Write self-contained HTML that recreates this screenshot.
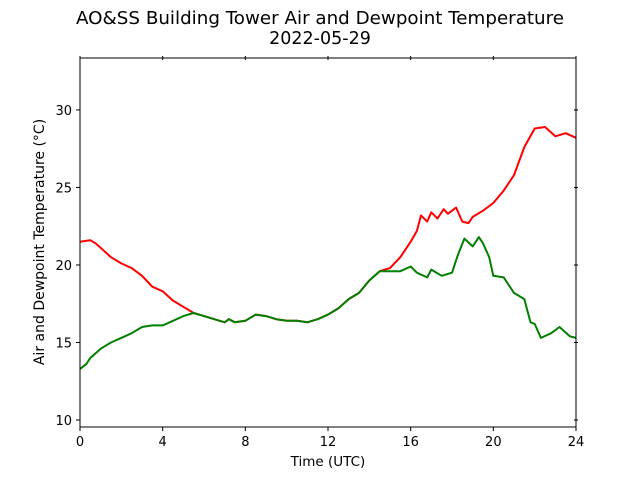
<!DOCTYPE html>
<html><head><meta charset="utf-8"><style>
body{margin:0;background:#fff}
svg{display:block;font-family:"DejaVu Sans","Liberation Sans",sans-serif}
</style></head><body>
<svg id="chart" width="640" height="480" viewBox="0 0 640 480">
<text x="320" y="24" text-anchor="middle" font-size="17.5" textLength="488" lengthAdjust="spacingAndGlyphs">AO&amp;SS Building Tower Air and Dewpoint Temperature</text>
<text x="320" y="44" text-anchor="middle" font-size="17.5">2022-05-29</text>
<g id="axes"></g>
<g id="series"></g>
<rect x="80" y="58" width="496" height="369" fill="none" stroke="#000" stroke-width="1"/>
<text x="328" y="466" text-anchor="middle" font-size="13.5">Time (UTC)</text>
<text transform="translate(44,242) rotate(-90)" text-anchor="middle" font-size="14">Air and Dewpoint Temperature (°C)</text>
</svg>
<script>
const xTicks=[0,4,8,12,16,20,24];
const yTicks=[10,15,20,25,30];
const airTimes=[0,0.5,0.75,1,1.5,2,2.5,3,3.5,4,4.5,5,5.5,6,6.5,7,7.2,7.5,8,8.5,9,9.5,10,10.5,11,11.5,12,12.5,13,13.5,14,14.5,15,15.5,16,16.3,16.5,16.8,17,17.3,17.6,17.8,18.2,18.5,18.8,19,19.5,20,20.5,21,21.5,22,22.5,23,23.5,24];
const airTemps=[21.5,21.6,21.4,21.1,20.5,20.1,19.8,19.3,18.6,18.3,17.7,17.3,16.9,16.7,16.5,16.3,16.5,16.3,16.4,16.8,16.7,16.5,16.4,16.4,16.3,16.5,16.8,17.2,17.8,18.2,19.0,19.6,19.8,20.5,21.5,22.2,23.2,22.8,23.4,23.0,23.6,23.3,23.7,22.8,22.7,23.1,23.5,24.0,24.8,25.8,27.6,28.8,28.9,28.3,28.5,28.2];
const dewTimes=[0,0.3,0.5,1,1.5,2,2.5,3,3.5,4,4.5,5,5.5,6,6.5,7,7.2,7.5,8,8.5,9,9.5,10,10.5,11,11.5,12,12.5,13,13.5,14,14.5,15,15.5,16,16.3,16.8,17,17.5,18,18.3,18.6,19,19.3,19.5,19.8,20,20.5,21,21.5,21.8,22,22.3,22.8,23.2,23.7,24];
const dewTemps=[13.3,13.6,14.0,14.6,15.0,15.3,15.6,16.0,16.1,16.1,16.4,16.7,16.9,16.7,16.5,16.3,16.5,16.3,16.4,16.8,16.7,16.5,16.4,16.4,16.3,16.5,16.8,17.2,17.8,18.2,19.0,19.6,19.6,19.6,19.9,19.5,19.2,19.7,19.3,19.5,20.7,21.7,21.2,21.8,21.4,20.5,19.3,19.2,18.2,17.8,16.3,16.2,15.3,15.6,16.0,15.4,15.3];
const X0=80,X1=576,Y0=427,Y1=58,XMIN=0,XMAX=24,YMIN=9.55,YMAX=33.35;
const xs=v=>X0+(v-XMIN)/(XMAX-XMIN)*(X1-X0);
const ys=v=>Y0-(v-YMIN)/(YMAX-YMIN)*(Y0-Y1);
const NS="http://www.w3.org/2000/svg";
const axes=document.getElementById('axes'),ser=document.getElementById('series');
function mk(t,a,p){const e=document.createElementNS(NS,t);for(const k in a)e.setAttribute(k,a[k]);p.appendChild(e);return e;}
xTicks.forEach(v=>{const x=xs(v);
const t=mk('line',{x1:x,x2:x,y1:Y0,y2:Y0+4,stroke:'#000'},axes);


const t2=mk('line',{x1:x,x2:x,y1:Y1-2,y2:Y1+2,stroke:'#000'},axes);


const l=mk('text',{x:x,y:Y0+19,'text-anchor':'middle','font-size':'13'},axes);l.textContent=v;

});
yTicks.forEach(v=>{const y=ys(v);
const t=mk('line',{x1:X0-4,x2:X0,y1:y,y2:y,stroke:'#000'},axes);


const t2=mk('line',{x1:X1-2,x2:X1+2,y1:y,y2:y,stroke:'#000'},axes);


const l=mk('text',{x:X0-8,y:y+5,'text-anchor':'end','font-size':'13'},axes);l.textContent=v;

});
function line(ts,vs,c){return mk('polyline',{points:ts.map((t,i)=>xs(t).toFixed(1)+','+ys(vs[i]).toFixed(1)).join(' '),fill:'none',stroke:c,'stroke-width':2,'stroke-linejoin':'round'},ser);}
const a=line(airTimes,airTemps,'#ff0000');


const d=line(dewTimes,dewTemps,'#008000');


</script>
</body></html>
